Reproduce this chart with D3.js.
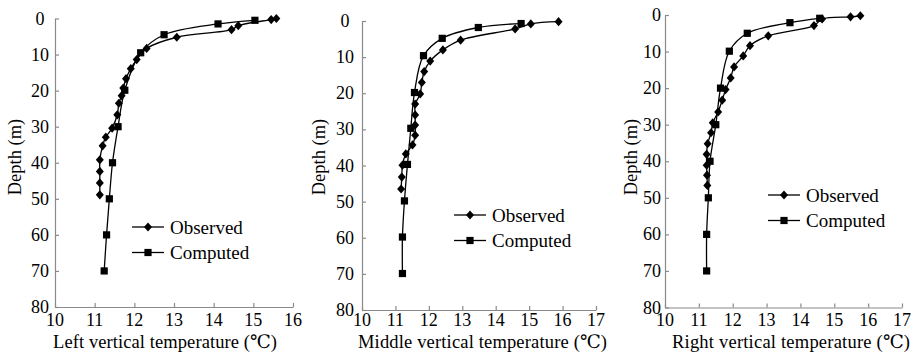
<!DOCTYPE html>
<html>
<head>
<meta charset="utf-8">
<script src="https://cdn.jsdelivr.net/npm/d3@7"></script>
<style>
  body { margin: 0; background: #fff; }
  svg { display: block; }
</style>
</head>
<body>
<svg width="914" height="353" font-family="'Liberation Serif', 'DejaVu Serif', serif"></svg>
<script>
// temperature (°C) and depth (m)
const leftObsT = [15.58, 15.45, 14.62, 14.45, 13.07, 12.31, 12.06, 11.91, 11.79, 11.72, 11.68, 11.61, 11.57, 11.44, 11.28, 11.20, 11.13, 11.13, 11.13, 11.13];
const leftObsD = [0, 0.3, 2.0, 3.1, 5.2, 8.3, 11.4, 13.9, 16.7, 19.3, 21.4, 23.5, 26.7, 30.4, 32.9, 35.3, 39.2, 42.4, 45.6, 48.9];
const leftCompT = [15.04, 14.11, 12.75, 12.16, 11.76, 11.59, 11.45, 11.37, 11.30, 11.24];
const leftCompD = [0.5, 1.5, 4.5, 9.5, 19.9, 30, 40, 50, 60, 70];

const midObsT = [15.88, 15.05, 14.58, 12.95, 12.42, 12.04, 11.86, 11.79, 11.74, 11.59, 11.59, 11.59, 11.59, 11.51, 11.31, 11.21, 11.19, 11.17];
const midObsD = [0.2, 0.8, 2.2, 5.3, 8.0, 11.1, 14.0, 17.0, 20.2, 23.0, 26.0, 28.8, 31.6, 34.3, 36.8, 39.9, 43.2, 46.5];
const midCompT = [14.76, 13.48, 12.40, 11.84, 11.57, 11.46, 11.36, 11.27, 11.21, 11.21];
const midCompD = [0.7, 1.8, 4.8, 9.6, 19.8, 29.7, 39.7, 49.8, 59.8, 69.9];

const rightObsT = [15.77, 15.48, 14.64, 14.40, 13.05, 12.51, 12.31, 12.04, 11.94, 11.79, 11.69, 11.57, 11.41, 11.36, 11.26, 11.23, 11.23, 11.24, 11.25];
const rightObsD = [0.2, 0.5, 1.1, 2.9, 5.7, 8.4, 11.2, 14.2, 17.2, 20.4, 23.3, 26.5, 29.5, 32.2, 35.2, 38.1, 41.1, 43.8, 46.6];
const rightCompT = [14.57, 13.69, 12.43, 11.90, 11.64, 11.50, 11.33, 11.28, 11.23, 11.23];
const rightCompD = [0.9, 2.1, 5.0, 9.9, 20, 30, 40, 50, 60, 70];

const depthTicks = [0, 10, 20, 30, 40, 50, 60, 70, 80];
const seriesNames = ["Observed", "Computed"];
const xTitles = ["Left vertical temperature (\u2103)", "Middle vertical temperature (\u2103)", "Right vertical temperature (\u2103)"];

const zip = (t, d) => t.map((v, i) => ({ t: v, d: d[i] }));

const panels = [
  { obs: zip(leftObsT, leftObsD), comp: zip(leftCompT, leftCompD), tMax: 16,
    x0: 55, x1: 293, y0: 18.5, y1: 307, yLabX: 40, yLabAnchor: "middle", depthX: 21,
    legX: 132, legY: 227, titleX: 53, titleW: 224 },
  { obs: zip(midObsT, midObsD), comp: zip(midCompT, midCompD), tMax: 17,
    x0: 362, x1: 596, y0: 21, y1: 310, yLabX: 345, yLabAnchor: "middle", depthX: 325,
    legX: 454, legY: 215, titleX: 358, titleW: 249 },
  { obs: zip(rightObsT, rightObsD), comp: zip(rightCompT, rightCompD), tMax: 17,
    x0: 665, x1: 902, y0: 15, y1: 307.5, yLabX: 661, yLabAnchor: "end", depthX: 637,
    legX: 768, legY: 195, titleX: 672, titleW: 238 }
];

const svg = d3.select("svg");
const axisColor = "#8a8a8a";
const diamond = "M0,-4.6L4,0L0,4.6L-4,0Z";

panels.forEach((p, i) => {
  const x = d3.scaleLinear().domain([10, p.tMax]).range([p.x0, p.x1]);
  const y = d3.scaleLinear().domain([0, 80]).range([p.y0, p.y1]);
  const g = svg.append("g");

  // axes (ticks point inward)
  const yAxis = g.append("g").attr("transform", `translate(${p.x0},0)`)
    .call(d3.axisRight(y).tickValues(depthTicks).tickSize(4).tickSizeOuter(0).tickFormat(""));
  const xAxis = g.append("g").attr("transform", `translate(0,${p.y1})`)
    .call(d3.axisTop(x).ticks(p.tMax - 10).tickSize(4).tickSizeOuter(0).tickFormat(""));
  [yAxis, xAxis].forEach(a => {
    a.select(".domain").attr("stroke", axisColor).attr("stroke-width", 1.2);
    a.selectAll(".tick line").attr("stroke", axisColor).attr("stroke-width", 1.2);
  });

  g.selectAll(".ylab").data(depthTicks).join("text")
    .attr("x", p.yLabX).attr("y", d => y(d) + 6)
    .attr("text-anchor", p.yLabAnchor).attr("font-size", 18).text(d => d);
  g.selectAll(".xlab").data(x.ticks(p.tMax - 10)).join("text")
    .attr("x", d => x(d)).attr("y", 326)
    .attr("text-anchor", "middle").attr("font-size", 18).text(d => d);

  g.append("text").attr("x", p.titleX).attr("y", 347.5)
    .attr("font-size", 18.5).attr("textLength", p.titleW).text(xTitles[i]);
  g.append("text")
    .attr("transform", `translate(${p.depthX},157) rotate(-90)`)
    .attr("text-anchor", "middle").attr("font-size", 18.5).text("Depth (m)");

  const line = d3.line().x(d => x(d.t)).y(d => y(d.d)).curve(d3.curveCatmullRom.alpha(0.5));
  [p.comp, p.obs].forEach(s => {
    g.append("path").datum(s).attr("d", line)
      .attr("fill", "none").attr("stroke", "#000").attr("stroke-width", 1.3);
  });

  g.selectAll(".obs").data(p.obs).join("path")
    .attr("transform", d => `translate(${x(d.t)},${y(d.d)})`)
    .attr("d", diamond).attr("fill", "#000");
  g.selectAll(".comp").data(p.comp).join("rect")
    .attr("x", d => x(d.t) - 3.6).attr("y", d => y(d.d) - 3.6)
    .attr("width", 7.2).attr("height", 7.2).attr("fill", "#000");

  // legend
  seriesNames.forEach((name, k) => {
    const ly = p.legY + k * 25.5;
    const lg = g.append("g");
    lg.append("line").attr("x1", p.legX).attr("x2", p.legX + 32)
      .attr("y1", ly).attr("y2", ly).attr("stroke", "#000").attr("stroke-width", 1.3);
    if (k === 0) {
      lg.append("path").attr("transform", `translate(${p.legX + 16},${ly})`)
        .attr("d", diamond).attr("fill", "#000");
    } else {
      lg.append("rect").attr("x", p.legX + 16 - 3.6).attr("y", ly - 3.6)
        .attr("width", 7.2).attr("height", 7.2).attr("fill", "#000");
    }
    lg.append("text").attr("x", p.legX + 38).attr("y", ly + 6.5)
      .attr("font-size", 19).text(name);
  });
});
</script>
</body>
</html>
